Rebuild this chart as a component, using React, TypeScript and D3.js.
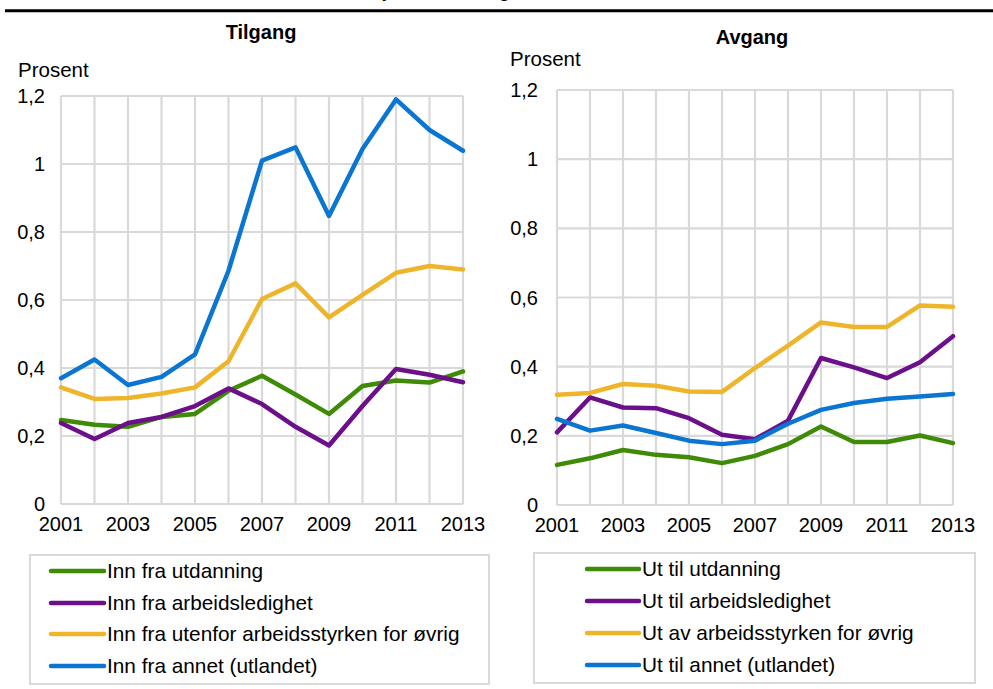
import React from "react";
import * as d3 from "d3";

const years = [2001, 2002, 2003, 2004, 2005, 2006, 2007, 2008, 2009, 2010, 2011, 2012, 2013];
const yearTicks = [2001, 2003, 2005, 2007, 2009, 2011, 2013];
const valueTicks = [0, 0.2, 0.4, 0.6, 0.8, 1, 1.2];

// Tilgang
const innUtdanning = [0.247, 0.233, 0.227, 0.256, 0.265, 0.333, 0.377, 0.322, 0.265, 0.347, 0.363, 0.357, 0.39];
const innArbeidsledighet = [0.238, 0.191, 0.238, 0.256, 0.288, 0.34, 0.294, 0.227, 0.172, 0.288, 0.397, 0.38, 0.358];
const innUtenfor = [0.343, 0.309, 0.312, 0.325, 0.343, 0.42, 0.603, 0.649, 0.549, 0.615, 0.68, 0.7, 0.69];
const innAnnet = [0.37, 0.425, 0.35, 0.374, 0.44, 0.686, 1.01, 1.049, 0.847, 1.044, 1.19, 1.1, 1.039];

// Avgang
const utUtdanning = [0.116, 0.135, 0.159, 0.145, 0.138, 0.121, 0.142, 0.176, 0.227, 0.182, 0.182, 0.201, 0.179];
const utArbeidsledighet = [0.21, 0.311, 0.282, 0.28, 0.251, 0.203, 0.19, 0.244, 0.425, 0.398, 0.367, 0.413, 0.488];
const utUtenfor = [0.319, 0.324, 0.35, 0.345, 0.328, 0.327, 0.396, 0.461, 0.528, 0.515, 0.515, 0.577, 0.573];
const utAnnet = [0.249, 0.215, 0.23, 0.208, 0.186, 0.176, 0.186, 0.235, 0.275, 0.295, 0.307, 0.314, 0.321];

const colors = ["#3f8a06", "#6b0f8a", "#efb52a", "#0b76d2"];

const FONT = "'Liberation Sans', Arial, sans-serif";
const GRID = "#d9d9d9";

type Series = { name: string; values: number[] };

type PanelProps = {
  title: string;
  titleX: number;
  titleY: number;
  unitX: number;
  unitY: number;
  labelRight: number;
  x0: number;
  x1: number;
  y0: number;
  y1: number;
  tickY: number;
  series: Series[];
  legend: { x0: number; x1: number; y0: number; y1: number; sw0: number; sw1: number; rows: number[] };
};

function Panel(p: PanelProps) {
  const x = d3.scaleLinear().domain([2001, 2013]).range([p.x0, p.x1]);
  const y = d3.scaleLinear().domain([0, 1.2]).range([p.y0, p.y1]);
  const line = d3
    .line<number>()
    .x((_, i) => x(years[i]))
    .y((d) => y(d));
  const fmt = (v: number) => String(+v.toFixed(1)).replace(".", ",");

  return (
    <g fontFamily={FONT}>
      <text x={p.titleX} y={p.titleY} textAnchor="middle" fontWeight="bold" fontSize={20}>
        {p.title}
      </text>
      <text x={p.unitX} y={p.unitY} fontSize={20.5}>
        Prosent
      </text>
      {valueTicks.map((t) => (
        <line key={"h" + t} x1={p.x0} x2={p.x1} y1={y(t)} y2={y(t)} stroke={GRID} strokeWidth={2.2} />
      ))}
      {years.map((yr) => (
        <line key={"v" + yr} x1={x(yr)} x2={x(yr)} y1={y(0)} y2={y(1.2)} stroke={GRID} strokeWidth={2.2} />
      ))}
      {valueTicks.map((t) => (
        <text key={"yl" + t} x={p.labelRight} y={y(t)} dy="0.35em" textAnchor="end" fontSize={20}>
          {fmt(t)}
        </text>
      ))}
      {yearTicks.map((yr) => (
        <text key={"xl" + yr} x={x(yr)} y={p.tickY} textAnchor="middle" fontSize={20}>
          {yr}
        </text>
      ))}
      {p.series.map((s, i) => (
        <path
          key={s.name}
          d={line(s.values) || ""}
          fill="none"
          stroke={colors[i]}
          strokeWidth={4.5}
          strokeLinejoin="round"
          strokeLinecap="round"
        />
      ))}
      <rect
        x={p.legend.x0}
        y={p.legend.y0}
        width={p.legend.x1 - p.legend.x0}
        height={p.legend.y1 - p.legend.y0}
        fill="white"
        stroke={GRID}
        strokeWidth={2}
      />
      {p.series.map((s, i) => (
        <g key={"lg" + s.name}>
          <line
            x1={p.legend.sw0}
            x2={p.legend.sw1}
            y1={p.legend.rows[i]}
            y2={p.legend.rows[i]}
            stroke={colors[i]}
            strokeWidth={4.5}
            strokeLinecap="round"
          />
          <text x={p.legend.sw1 + 3} y={p.legend.rows[i]} dy="0.35em" fontSize={20.8}>
            {s.name}
          </text>
        </g>
      ))}
    </g>
  );
}

export default function App() {
  const tilgang: Series[] = [
    { name: "Inn fra utdanning", values: innUtdanning },
    { name: "Inn fra arbeidsledighet", values: innArbeidsledighet },
    { name: "Inn fra utenfor arbeidsstyrken for øvrig", values: innUtenfor },
    { name: "Inn fra annet (utlandet)", values: innAnnet },
  ];
  const avgang: Series[] = [
    { name: "Ut til utdanning", values: utUtdanning },
    { name: "Ut til arbeidsledighet", values: utArbeidsledighet },
    { name: "Ut av arbeidsstyrken for øvrig", values: utUtenfor },
    { name: "Ut til annet (utlandet)", values: utAnnet },
  ];

  return (
    <svg
      width={993}
      height={689}
      style={{ position: "absolute", left: 0, top: 0, background: "white" }}
    >
      <text x={303} y={-2} fontFamily={FONT} fontWeight="bold" fontSize={16}>
        Mobilitet i yrket. Strømninger
      </text>
      <line x1={5} x2={993} y1={10.7} y2={10.7} stroke="black" strokeWidth={3} />
      <Panel
        title="Tilgang"
        titleX={261}
        titleY={39}
        unitX={18}
        unitY={77}
        labelRight={45}
        x0={61}
        x1={463}
        y0={504}
        y1={96}
        tickY={531}
        series={tilgang}
        legend={{ x0: 30, x1: 489, y0: 555, y1: 684, sw0: 51, sw1: 104, rows: [571, 603, 634, 666] }}
      />
      <Panel
        title="Avgang"
        titleX={752}
        titleY={44}
        unitX={510}
        unitY={66}
        labelRight={538}
        x0={557}
        x1={953}
        y0={505}
        y1={90}
        tickY={532}
        series={avgang}
        legend={{ x0: 534, x1: 975, y0: 553, y1: 683, sw0: 587, sw1: 639, rows: [569, 601, 633, 665] }}
      />
    </svg>
  );
}
